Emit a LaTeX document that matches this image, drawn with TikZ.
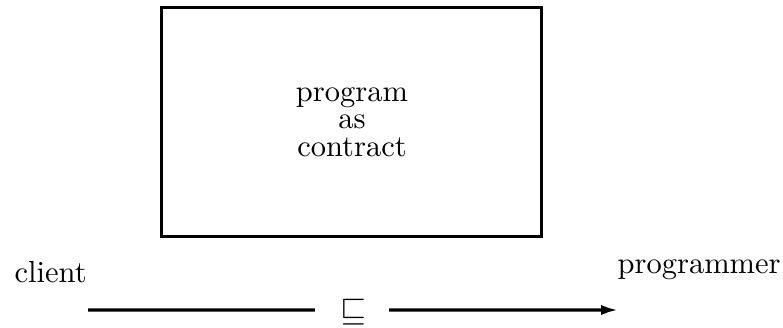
\documentclass[tikz,border=0pt]{standalone}
\usetikzlibrary{arrows.meta}
\begin{document}
\begin{tikzpicture}[x=0.3277pt,y=-0.3277pt,
  lbl/.style={inner sep=0pt,font=\fontsize{10pt}{9pt}\selectfont},
  conn/.style={line width=1pt}]
\useasboundingbox (0,0) rectangle (783,328);
\node[draw,line width=1pt,minimum width=380*0.3277pt,minimum height=229*0.3277pt,inner sep=0pt] (box) at (351.5,122) {};
\node[lbl,align=center] (txt) at (352,122) {program\\as\\contract};
\node[lbl,anchor=base west] (client) at (14,283) {client};
\node[lbl,anchor=base west] (prog) at (617,274) {programmer};
\node[lbl,font=\fontsize{11pt}{11pt}\selectfont] (sq) at (353,312) {$\sqsubseteq$};
\coordinate (a) at (88,310);
\coordinate (b) at (618,310);
\draw[conn] (a) -- ([xshift=-12.5pt,yshift=0.65pt]sq.center);
\draw[conn,-{Latex[length=5.5pt,width=3.3pt]}] ([xshift=11.8pt,yshift=0.65pt]sq.center) -- (b);
\end{tikzpicture}
\end{document}
